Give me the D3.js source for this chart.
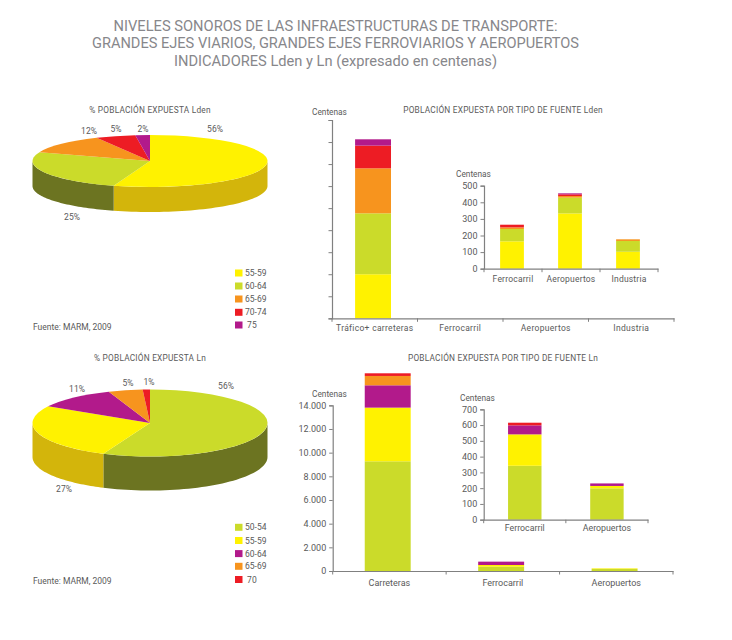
<!DOCTYPE html>
<html lang="es"><head><meta charset="utf-8">
<script src="https://cdn.jsdelivr.net/npm/d3@7/dist/d3.min.js"></script>
<style>html,body{margin:0;background:#fff}svg{display:block}text{font-family:Roboto,sans-serif;fill:#5a5a5a}</style>
</head><body><div id="c"></div>
<script>
// ---- data ----
const titleLines = ["NIVELES SONOROS DE LAS INFRAESTRUCTURAS DE TRANSPORTE:","GRANDES EJES VIARIOS, GRANDES EJES FERROVIARIOS Y AEROPUERTOS","INDICADORES Lden y Ln (expresado en centenas)"];
const ldenBands = ["55-59","60-64","65-69","70-74"," 75"];
const lnBands = ["50-54","55-59","60-64","65-69"," 70"];
const ldenPie = [55,25.5,12,5.5,2];
const ldenPieLabels = ["56%","25%","12%","5%","2%"];
const lnPie = [56.5,26.8,11,4.7,1];
const lnPieLabels = ["56%","27%","11%","5%","1%"];
const ldenMainCats = ["Tráfico+ carreteras","Ferrocarril","Aeropuertos","Industria"];
const ldenMainVals = [[4000,5530,4085,2058,575],[0,0,0,0,0],[0,0,0,0,0],[0,0,0,0,0]];
const ldenInsetCats = ["Ferrocarril","Aeropuertos","Industria"];
const ldenInsetVals = [[165,74,10,16,0],[333,95,10,10,6],[102,65,10,0,0]];
const ldenInsetTicks = [0,100,200,300,400,500];
const lnMainCats = ["Carreteras","Ferrocarril","Aeropuertos"];
const lnMainVals = [[9268,4535,1887,789,225],[366,141,283,0,0],[180,45,0,0,0]];
const lnMainTicks = [0,2000,4000,6000,8000,10000,12000,14000];
const lnInsetCats = ["Ferrocarril","Aeropuertos"];
const lnInsetVals = [[342,199,57,0,17],[199,15,16,0,0]];
const lnInsetTicks = [0,100,200,300,400,500,600,700];

// ---- colours ----
const YEL="#fff200",GRN="#cbdb2a",ORG="#f7941e",RED="#ed1c24",PUR="#b21a8b";
const ldenColors=[YEL,GRN,ORG,RED,PUR], lnColors=[GRN,YEL,PUR,ORG,RED];
const lnBarColors=[GRN,YEL,PUR,ORG,RED];
const wall=new Map([[YEL,"#d3b50b"],[GRN,"#6c7421"],[ORG,"#b96f16"],[RED,"#a8141a"],[PUR,"#7d1362"]]);
const AXIS="#808080";

const svg=d3.select("#c").append("svg").attr("width",732).attr("height",640);
function txt(s,x,y,size,anchor="start",g=svg){return g.append("text").attr("x",x).attr("y",y).attr("font-size",size).attr("text-anchor",anchor).text(s);}

// title
const tb=[31,48,66], tw=[444,487,323];
titleLines.forEach((t,i)=>txt(t,335.5,tb[i],15.5,"middle").style("fill","#87878b").attr("font-weight",400).attr("textLength",tw[i]).attr("lengthAdjust","spacingAndGlyphs"));

function pie3d(vals,labels,colors,geo){
  const {cx,cy,rx,ry,depth,labelPos}=geo;
  const arcs=d3.pie().sort(null)(vals);
  const g=svg.append("g");
  const px=a=>cx+rx*Math.sin(a), py=a=>cy-ry*Math.cos(a);
  const area=d3.area().x(px).y0(py).y1(a=>py(a)+depth);
  arcs.forEach((d,i)=>{
    const a0=Math.max(d.startAngle,Math.PI/2),a1=Math.min(d.endAngle,Math.PI*1.5);
    if(a1<=a0)return;
    const n=48,as=d3.range(n+1).map(k=>a0+(a1-a0)*k/n);
    g.append("path").attr("d",area(as)).attr("fill",wall.get(colors[i]));
  });
  const arc=d3.arc().innerRadius(0).outerRadius(rx);
  arcs.forEach((d,i)=>g.append("path").attr("d",arc(d)).attr("fill",colors[i])
    .attr("transform",`translate(${cx},${cy}) scale(1,${ry/rx})`));
  labels.forEach((l,i)=>txt(l,labelPos[i][0],labelPos[i][1]+3,8.5,"middle"));
}
pie3d(ldenPie,ldenPieLabels,ldenColors,{cx:150,cy:161,rx:117.5,ry:26,depth:25,
  labelPos:[[215,129],[72,217],[89,131],[116,129],[143,129]]});
pie3d(lnPie,lnPieLabels,lnColors,{cx:150,cy:423,rx:117.5,ry:33.5,depth:34,
  labelPos:[[226,386],[64,489],[77,389],[128,383],[149,382]]});

[["% POBLACIÓN EXPUESTA Lden",150,113],["% POBLACIÓN EXPUESTA Ln",150,360.5],
 ["POBLACIÓN EXPUESTA POR TIPO DE FUENTE Lden",503,113],["POBLACIÓN EXPUESTA POR TIPO DE FUENTE Ln",503,360.5]]
 .forEach(([t,x,y])=>txt(t,x,y,8.3,"middle").attr("letter-spacing",.22));
txt("Fuente: MARM, 2009",33,330,8.5);
txt("Fuente: MARM, 2009",33,584,8.5);

function legend(bands,colors,ys){
  bands.forEach((b,i)=>{
    svg.append("rect").attr("x",235).attr("y",ys[i]-3.5).attr("width",7.5).attr("height",7).attr("fill",colors[i]);
    txt(b,245,ys[i]+3,8.5).style("white-space","pre");
  });
}
legend(ldenBands,ldenColors,[273,286,299,312.3,325]);
legend(lnBands,lnColors,[527.3,540.5,553.6,566.3,579.5]);

function barChart(o){
  const x=d3.scaleBand().domain(o.cats).range([o.x0,o.x1]).paddingInner(1-o.barFrac).paddingOuter((1-o.barFrac)/2);
  const y=d3.scaleLinear().domain([0,o.top]).range([o.y0,o.yTop]);
  const g=svg.append("g");
  const keys=d3.range(5);
  const rows=o.vals.map(v=>Object.assign({},v));
  const stack=d3.stack().keys(keys)(rows);
  stack.forEach((s,k)=>g.selectAll(null).data(s).join("rect")
    .attr("x",(d,i)=>x(o.cats[i])+(o.shift||0)).attr("width",x.bandwidth())
    .attr("y",d=>y(d[1])).attr("height",d=>y(d[0])-y(d[1])).attr("fill",o.colors[k]));
  const ya=d3.axisLeft(y).tickValues(o.ticks).tickSize(3.5).tickPadding(3)
    .tickFormat(o.noLabels?"":(d=>d3.format(",")(d).replace(/,/g,".")));
  const gy=g.append("g").attr("transform",`translate(${o.x0},0)`).call(ya);
  const xa=d3.axisBottom(x).tickSize(0).tickPadding(o.xPad);
  const gx=g.append("g").attr("transform",`translate(0,${o.y0})`).call(xa);
  const bounds=d3.range(o.cats.length+1).map(i=>o.x0+i*x.step());
  gx.selectAll(null).data(bounds).join("line").attr("x1",d=>d).attr("x2",d=>d).attr("y1",0).attr("y2",3.5).attr("stroke",AXIS);
  [gx,gy].forEach(a=>{
    a.selectAll("path").attr("stroke",AXIS).attr("stroke-width",1.2);
    a.selectAll("line").attr("stroke",AXIS);
    a.selectAll("text").style("font-family","Roboto").style("fill","#5a5a5a").attr("font-size",o.font);
    a.attr("font-family",null).attr("font-size",null);
  });
  gx.selectAll("text").attr("letter-spacing",o.spacing||0);
  gy.selectAll("text").attr("font-size",o.yFont||o.font);
  txt("Centenas",o.unit[0],o.unit[1],8.3);
}
const ldenTicksMain=[0,2000,4000,6000,8000,10000,12000,14000,16000,18000];
barChart({cats:ldenMainCats,vals:ldenMainVals,colors:ldenColors,x0:332,x1:674,y0:318.3,yTop:120,top:18000,ticks:ldenTicksMain,noLabels:true,barFrac:.42,shift:-1.7,font:8.5,xPad:6.5,spacing:.3,unit:[312,115]});
barChart({cats:ldenInsetCats,vals:ldenInsetVals,colors:ldenColors,x0:484,x1:658,y0:268.7,yTop:185.7,top:500,ticks:ldenInsetTicks,barFrac:.41,shift:-1,font:8.5,xPad:7,spacing:.2,yFont:9,unit:[456,177]});
barChart({cats:lnMainCats,vals:lnMainVals,colors:lnBarColors,x0:332.7,x1:673,y0:571,yTop:405.3,top:14000,ticks:lnMainTicks,barFrac:.405,shift:-1.7,font:9,xPad:9,yFont:9,unit:[312,397]});
barChart({cats:lnInsetCats,vals:lnInsetVals,colors:lnBarColors,x0:483.7,x1:648,y0:519.7,yTop:409.3,top:700,ticks:lnInsetTicks,barFrac:.407,shift:0,font:8.8,xPad:5,yFont:9,unit:[460,401]});
</script></body></html>
